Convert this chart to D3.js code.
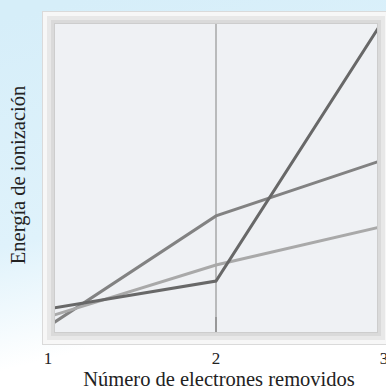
<!DOCTYPE html>
<html><head><meta charset="utf-8">
<script src="https://cdn.jsdelivr.net/npm/d3@7"></script>
<style>html,body{margin:0;padding:0;background:#fff;}svg{display:block;}</style>
</head><body>
<script>
// Data
const electrons = [1, 2, 3];
const tickLabels = ["1", "2", "3"];
const seriesA = [7.8, 16.8, 101.6];   // darkest, steep rise
const seriesB = [2.1, 37.9, 56.1];    // medium gray
const seriesC = [5.2, 22.0, 34.6];    // light gray
const xTitle = "Número de electrones removidos";
const yTitle = "Energía de ionización";

const W = 386, H = 390;
const svg = d3.select("body").append("svg").attr("width", W).attr("height", H);
const defs = svg.append("defs");
const bg = defs.append("linearGradient").attr("id", "bg").attr("x1", 0.2).attr("y1", 0).attr("x2", 0.45).attr("y2", 1);
bg.append("stop").attr("offset", 0).attr("stop-color", "#d6eef9");
bg.append("stop").attr("offset", 0.55).attr("stop-color", "#dff2fb");
bg.append("stop").attr("offset", 0.85).attr("stop-color", "#ffffff");
bg.append("stop").attr("offset", 1).attr("stop-color", "#ffffff");
svg.append("rect").attr("width", W).attr("height", H).attr("fill", "url(#bg)");

// plot area
const inner = {x0: 55, y0: 24, x1: 377, y1: 332};
const frame = [
  {d: 13, c: "#dadada"},
  {d: 12, c: "#f7f7f7"},
  {d: 8, c: "#e8e8e8"},
  {d: 4, c: "#dadada"},
  {d: 1, c: "#cdcdcd"},
];
frame.forEach(f => {
  svg.append("rect")
    .attr("x", inner.x0 - f.d).attr("y", inner.y0 - f.d)
    .attr("width", (inner.x1 - inner.x0) + 2 * f.d)
    .attr("height", (inner.y1 - inner.y0) + 2 * f.d)
    .attr("fill", f.c);
});
svg.append("rect").attr("x", inner.x0).attr("y", inner.y0)
  .attr("width", inner.x1 - inner.x0).attr("height", inner.y1 - inner.y0)
  .attr("fill", "#eff1f4");

const x = d3.scaleLinear().domain([1, 3]).range([48, 384]);
const y = d3.scaleLinear().domain([0, 100]).range([333, 24]);

defs.append("clipPath").attr("id", "clip").append("rect")
  .attr("x", inner.x0).attr("y", inner.y0)
  .attr("width", inner.x1 - inner.x0).attr("height", inner.y1 - inner.y0);

const g = svg.append("g").attr("clip-path", "url(#clip)");
// vertical gridline at 2
g.append("line").attr("x1", x(2)).attr("x2", x(2)).attr("y1", inner.y0).attr("y2", inner.y1)
  .attr("stroke", "#a3a3a3").attr("stroke-width", 1.4);
g.append("line").attr("x1", x(2)).attr("x2", x(2)).attr("y1", inner.y1 - 15).attr("y2", inner.y1)
  .attr("stroke", "#8a8a8a").attr("stroke-width", 1.4);

const line = d3.line().x((d, i) => x(electrons[i])).y(d => y(d));
const series = [
  {v: seriesB, c: "#828282"},
  {v: seriesC, c: "#a9a9a9"},
  {v: seriesA, c: "#686868"},
];
series.forEach(s => {
  g.append("path").attr("d", line(s.v)).attr("fill", "none")
    .attr("stroke", s.c).attr("stroke-width", 3).attr("stroke-linejoin", "miter");
});

// x tick labels
const font = "\"Liberation Serif\", \"DejaVu Serif\", serif";
svg.selectAll("text.tick").data(electrons).enter().append("text")
  .attr("class", "tick")
  .attr("x", d => x(d)).attr("y", 364)
  .attr("text-anchor", "middle")
  .style("font-family", font).style("font-size", "17px").attr("fill", "#222")
  .text((d, i) => tickLabels[i]);

svg.append("text").attr("x", 219).attr("y", 386)
  .attr("text-anchor", "middle").style("font-family", font).style("font-size", "20.5px").attr("fill", "#222")
  .text(xTitle);

svg.append("text").attr("transform", "translate(25,175) rotate(-90)")
  .attr("text-anchor", "middle").style("font-family", font).style("font-size", "20.5px").attr("fill", "#222")
  .text(yTitle);
</script>
</body></html>
